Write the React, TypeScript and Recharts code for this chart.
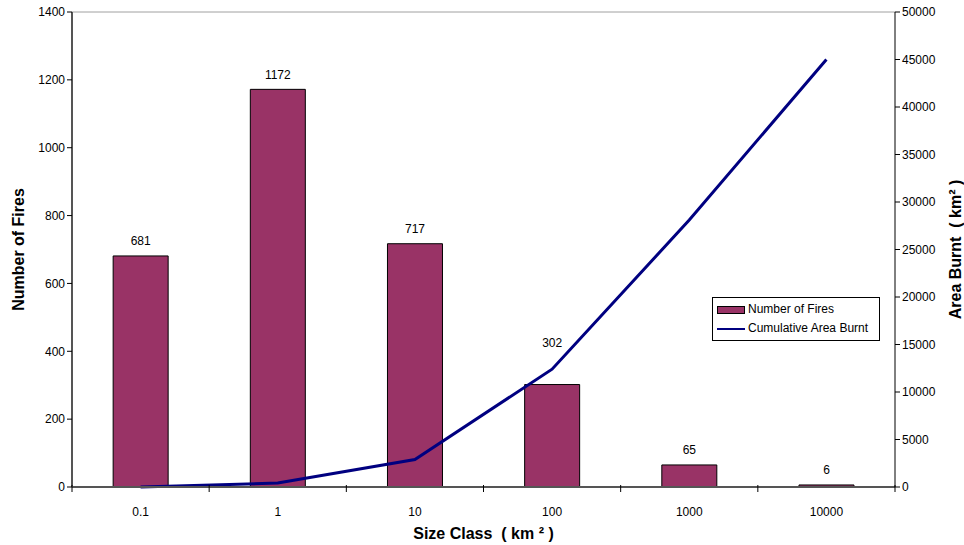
import {
  Bar,
  ComposedChart,
  LabelList,
  Line,
  ReferenceLine,
  XAxis,
  YAxis,
} from 'recharts'

const COLORS = {
  fires: '#993366',
  area: '#000080',
  text: '#000000',
  frame: '#a0a0a0',
}

const sizeClasses = ['0.1', '1', '10', '100', '1000', '10000']
const numberOfFires = [681, 1172, 717, 302, 65, 6]
const cumulativeArea = [0, 420, 2900, 12400, 28100, 45000]

const leftTicks = [0, 200, 400, 600, 800, 1000, 1200, 1400]
const rightTicks = [0, 5000, 10000, 15000, 20000, 25000, 30000, 35000, 40000, 45000, 50000]

const data = sizeClasses.map((size, i) => ({
  size,
  fires: numberOfFires[i],
  area: cumulativeArea[i],
}))

const FONT = '"Liberation Sans", Arial, sans-serif'
const NB = '\u00a0'
const MARGIN = { top: 12, right: 8, left: 8, bottom: 6 }
const LEFT_W = 64
const RIGHT_W = 61
const BAND = (964 - MARGIN.left - MARGIN.right - LEFT_W - RIGHT_W) / sizeClasses.length
const TITLE = { fontSize: 16, fontWeight: 'bold', fill: COLORS.text }

// category label plus the Excel-style tick mark sitting between categories
function SizeTick(props: any) {
  const { x, y, payload, index } = props
  const axisY = y - 20
  return (
    <g>
      {index === 0 && <line x1={x - BAND / 2} x2={x - BAND / 2} y1={axisY - 2} y2={axisY + 5} stroke="#000" />}
      <line x1={x + BAND / 2} x2={x + BAND / 2} y1={axisY - 2} y2={axisY + 5} stroke="#000" />
      <text x={x} y={y} dy="0.71em" textAnchor="middle" fontSize={12} fill={COLORS.text}>
        {payload.value}
      </text>
    </g>
  )
}

// value label above each bar; the 100 km² one is lifted clear of the line, as in the original
function BarValue(props: any) {
  const { x, y, width, value, index } = props
  const lift = sizeClasses[index] === '100' ? 42 : 15
  return (
    <text x={x + width / 2} y={y - lift} dy="0.35em" textAnchor="middle" fontSize={12} fill={COLORS.text}>
      {value}
    </text>
  )
}

function LegendBox() {
  return (
    <div
      style={{
        position: 'absolute',
        left: 712,
        top: 297,
        border: '1px solid #000',
        background: '#fff',
        padding: '2px 6px 2px 4px',
        fontFamily: FONT,
        fontSize: 12,
        color: '#000',
        lineHeight: '19px',
        width: 156,
      }}
    >
      <div style={{ display: 'flex', alignItems: 'center', gap: 3 }}>
        <span
          style={{
            display: 'inline-block',
            width: 26,
            height: 6,
            background: COLORS.fires,
            border: '1px solid #000',
          }}
        />
        Number of Fires
      </div>
      <div style={{ display: 'flex', alignItems: 'center', gap: 3 }}>
        <span style={{ display: 'inline-block', width: 28, height: 2, background: COLORS.area }} />
        Cumulative Area Burnt
      </div>
    </div>
  )
}

export default function App() {
  return (
    <div style={{ position: 'absolute', left: 0, top: 0, width: 964, height: 545, background: '#fff' }}>
      <ComposedChart
        width={964}
        height={545}
        data={data}
        margin={MARGIN}
        barCategoryGap="30%"
        style={{ fontFamily: FONT }}
      >
        <XAxis
          dataKey="size"
          axisLine={{ stroke: '#555', strokeWidth: 2 }}
          tickLine={false}
          tick={<SizeTick />}
          tickMargin={14}
          height={52}
          label={{
            value: `Size Class${NB}${NB}( km ² )`,
            position: 'insideBottom',
            offset: 0,
            style: TITLE,
          }}
        />
        <YAxis
          yAxisId="left"
          domain={[0, 1400]}
          ticks={leftTicks}
          axisLine={{ stroke: '#555', strokeWidth: 2 }}
          tickLine={{ stroke: '#000' }}
          tickSize={5}
          tick={{ fontSize: 12, fill: COLORS.text }}
          width={LEFT_W}
          label={{
            value: 'Number of Fires',
            angle: -90,
            position: 'insideLeft',
            offset: 10,
            style: { ...TITLE, textAnchor: 'middle' },
          }}
        />
        <YAxis
          yAxisId="right"
          orientation="right"
          domain={[0, 50000]}
          ticks={rightTicks}
          axisLine={{ stroke: '#000', strokeWidth: 1 }}
          tickLine={{ stroke: '#000' }}
          tickSize={5}
          tick={{ fontSize: 12, fill: COLORS.text }}
          width={RIGHT_W}
          label={{
            value: `Area Burnt${NB}${NB}( km² )`,
            angle: -90,
            position: 'insideRight',
            offset: 1,
            style: { ...TITLE, textAnchor: 'middle' },
          }}
        />
        <ReferenceLine yAxisId="left" y={1400} stroke={COLORS.frame} strokeWidth={1} />
        <Bar
          dataKey="fires"
          yAxisId="left"
          fill={COLORS.fires}
          stroke="#000"
          strokeWidth={1}
          isAnimationActive={false}
        >
          <LabelList dataKey="fires" content={<BarValue />} />
        </Bar>
        <Line
          dataKey="area"
          yAxisId="right"
          type="linear"
          stroke={COLORS.area}
          strokeWidth={3}
          dot={false}
          isAnimationActive={false}
        />
      </ComposedChart>
      <LegendBox />
    </div>
  )
}
